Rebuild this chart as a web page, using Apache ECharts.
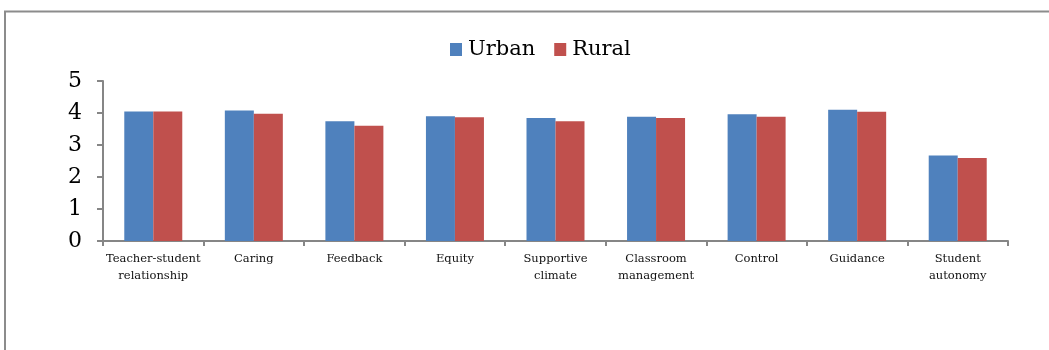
<!DOCTYPE html>
<html><head><meta charset="utf-8">
<script src="https://cdn.jsdelivr.net/npm/echarts@6/dist/echarts.min.js"></script>
<style>html,body{margin:0;padding:0;background:#fff}#c{width:1049px;height:350px}</style>
</head><body><div id="c"></div>
<script>
const categories = ['Teacher-student\nrelationship','Caring','Feedback','Equity','Supportive\nclimate','Classroom\nmanagement','Control','Guidance','Student\nautonomy'];
const urban = [4.05,4.08,3.74,3.90,3.84,3.88,3.96,4.10,2.67];
const rural = [4.05,3.98,3.60,3.87,3.74,3.84,3.88,4.04,2.59];
const yTicks = [0,1,2,3,4,5];
const font = 'DejaVu Serif';
const chart = echarts.init(document.getElementById('c'));
chart.setOption({
  animation:false,
  graphic:[
    {type:'line',shape:{x1:4,y1:11.5,x2:1049,y2:11.5},style:{stroke:'#8c8c8c',lineWidth:2}},
    {type:'line',shape:{x1:5,y1:11,x2:5,y2:350},style:{stroke:'#8c8c8c',lineWidth:2}}
  ],
  legend:{top:34,left:445,itemWidth:12,itemHeight:13,itemGap:19,icon:'rect',
    textStyle:{fontFamily:font,fontSize:21,color:'#000',padding:[0,0,0,1]},
    data:['Urban','Rural']},
  grid:{left:103,right:41,top:81,bottom:109,containLabel:false},
  xAxis:{type:'category',data:categories,
    axisLine:{lineStyle:{color:'#868686',width:2}},
    axisTick:{show:true,length:5,lineStyle:{color:'#868686',width:2}},
    axisLabel:{fontFamily:font,fontSize:11.5,color:'#111',margin:10,lineHeight:17,interval:0}},
  yAxis:{type:'value',min:0,max:5,interval:1,
    splitLine:{show:false},
    axisLine:{show:true,lineStyle:{color:'#868686',width:2}},
    axisTick:{show:true,length:6,inside:false,lineStyle:{color:'#868686',width:2}},
    axisLabel:{fontFamily:font,fontSize:22,color:'#000',margin:21,
      formatter:v=>yTicks.includes(v)?String(v):''}},
  series:[
    {name:'Urban',type:'bar',data:urban,barWidth:29,barGap:'0%',itemStyle:{color:'#4F81BD'}},
    {name:'Rural',type:'bar',data:rural,barWidth:29,itemStyle:{color:'#C0504D'}}
  ]
});
</script></body></html>
